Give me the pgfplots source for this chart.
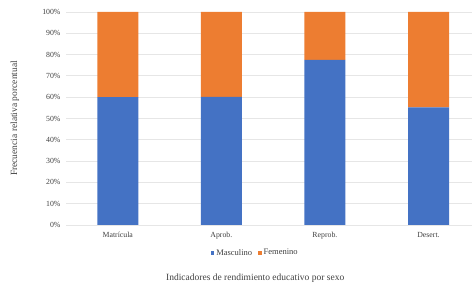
\documentclass[border=0pt]{standalone}
\usepackage{pgfplots}
\pgfplotsset{compat=1.18}
\usepackage{fontspec}
\setmainfont{Liberation Serif}
\definecolor{cblue}{HTML}{4472C4}
\definecolor{corange}{HTML}{ED7D31}
\definecolor{txt}{HTML}{404040}
\definecolor{gridc}{HTML}{E6E6E6}
\begin{document}
\begin{tikzpicture}
\useasboundingbox (-66pt,-61pt) rectangle (410pt,225pt);
\begin{axis}[
  scale only axis, width=406pt, height=213pt,
  ybar stacked, bar width=41pt,
  xmin=-0.5, xmax=3.42, ymin=0, ymax=100,
  xtick=data, xticklabels={Matrícula,Aprob.,Reprob.,Desert.},
  ytick={0,10,...,100},
  yticklabel={\pgfmathprintnumber{\tick}\%},
  /pgf/number format/assume math mode=true,
  ticklabel style={font=\fontsize{7.8}{9}\selectfont, text=txt},
  major tick length=0pt,
  axis line style={draw=none},
  ymajorgrids, grid style={gridc, line width=0.8pt},
  xticklabel style={yshift=-4pt},
  yticklabel style={xshift=-2pt},
  xlabel={Indicadores de rendimiento educativo por sexo},
  ylabel={Frecuencia relativa porcentual},
  label style={font=\fontsize{9.5}{11}\selectfont, text=txt},
  xlabel style={at={(axis description cs:0.466,-0.249)}, anchor=center},
  ylabel style={at={(axis description cs:-0.126,0.5)}, anchor=center},
  legend style={at={(axis description cs:0.466,-0.131)}, anchor=center, draw=none,
    legend columns=2, font=\fontsize{8.5}{10}\selectfont, text=txt,
    /tikz/every even column/.append style={column sep=4pt}},
  legend image code/.code={\fill[#1] (0pt,-1.8pt) rectangle (3.6pt,1.8pt);},
]
\addplot[fill=cblue, draw=none] coordinates {(0,60) (1,60.2) (2,77.5) (3,55.2)};
\addplot[fill=corange, draw=none] coordinates {(0,40) (1,39.8) (2,22.5) (3,44.8)};
\legend{Masculino,Femenino}
\end{axis}
\end{tikzpicture}
\end{document}
